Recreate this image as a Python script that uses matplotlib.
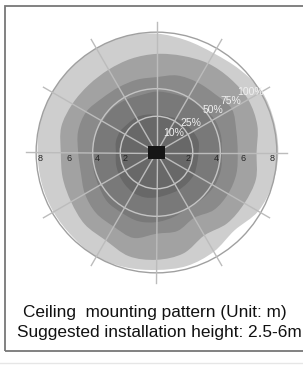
import numpy as np
import matplotlib
matplotlib.use("Agg")
import matplotlib.pyplot as plt
from matplotlib.path import Path
from matplotlib.patches import PathPatch, Rectangle, Circle

# coverage contours, radius (m) every 15 deg starting at +x, counter-clockwise
angles = np.arange(0, 360, 15)
r100 = [8.4, 8.4, 8.4, 8.1, 7.9, 8.0, 8.2, 8.3, 8.3, 8.3, 8.3, 8.3,
        8.2, 8.2, 8.2, 8.2, 8.3, 8.2, 8.1, 8.1, 7.9, 7.6, 8.1, 8.3]
r75 = [6.9, 7.2, 7.3, 7.2, 7.1, 6.9, 6.8, 6.7, 6.6, 6.6, 6.7, 6.8,
       6.6, 6.7, 6.8, 7.0, 7.0, 7.4, 7.4, 7.2, 6.6, 6.9, 7.0, 7.1]
r50 = [5.6, 5.7, 6.0, 5.7, 5.6, 5.5, 5.2, 5.2, 5.2, 5.3, 5.6, 5.6,
       5.4, 5.4, 5.7, 5.9, 5.9, 6.1, 5.6, 5.6, 5.2, 5.6, 5.7, 5.7]
r25 = [4.5, 4.6, 4.6, 4.4, 4.3, 4.2, 4.2, 4.1, 4.2, 4.3, 4.3, 4.4,
       4.4, 4.5, 4.6, 4.8, 4.8, 4.9, 4.8, 4.6, 4.4, 4.5, 4.6, 4.6]
r10 = [2.9, 3.0, 2.9, 2.8, 2.7, 2.6, 2.6, 2.7, 2.8, 2.8, 2.9, 2.9,
       2.8, 2.9, 3.0, 3.1, 3.2, 3.2, 3.1, 3.0, 3.0, 3.0, 3.0, 2.9]
zone_labels = ["100%", "75%", "50%", "25%", "10%"]
zone_colors = ["#cecece", "#a2a2a2", "#8a8a8a", "#797979", "#686868"]

tick_vals = [2, 4, 6, 8]
tick_pos = [2.2, 4.1, 6.0, 8.0]
grid_r = [2.5, 4.4]
outer_r = 8.3


def closed_smooth(radii, ang):
    # catmull-rom through the read points, drawn as cubic bezier
    t = np.deg2rad(ang)
    pts = np.column_stack([np.array(radii) * np.cos(t), np.array(radii) * np.sin(t)])
    n = len(pts)
    verts = [pts[0]]
    codes = [Path.MOVETO]
    for i in range(n):
        p0, p1, p2, p3 = pts[i - 1], pts[i], pts[(i + 1) % n], pts[(i + 2) % n]
        verts += [p1 + (p2 - p0) / 6, p2 - (p3 - p1) / 6, p2]
        codes += [Path.CURVE4] * 3
    return Path(verts, codes)


fig = plt.figure(figsize=(3.03, 3.67), dpi=100)
ax = fig.add_axes([0, 0, 1, 1])
sc = 14.5  # px per metre
cx, cy = 156.5, 152.5
ax.set_xlim(-cx / sc, (303 - cx) / sc)
ax.set_ylim(-(367 - cy) / sc, cy / sc)
ax.axis("off")

for radii, col in zip([r100, r75, r50, r25, r10], zone_colors):
    ax.add_patch(PathPatch(closed_smooth(radii, angles), fc=col, ec="none", zorder=1))

ax.add_patch(Circle((0, 0), outer_r, fc="none", ec="#a0a0a0", lw=1.0, zorder=2))
for r in grid_r:
    ax.add_patch(Circle((0, 0), r, fc="none", ec="#c4c4c4", lw=1.0, zorder=2))
for a in range(0, 360, 30):
    t = np.deg2rad(a)
    L = 9.0
    ax.plot([0, L * np.cos(t)], [0, L * np.sin(t)], color="#bcbcbc", lw=1.0, zorder=2)

ax.add_patch(Rectangle((-0.6, -0.42), 1.2, 0.84, fc="#151515", ec="none", zorder=3))

for v, p in zip(tick_vals, tick_pos):
    for s in (-1, 1):
        ax.text(s * p, -0.38, str(v), ha="center", va="center", fontsize=6.5,
                color="#262626", family="Liberation Sans", zorder=4)

lab_xy = [(6.45, 4.2), (5.1, 3.55), (3.9, 2.9), (2.4, 2.0), (1.2, 1.35)]
for txt, (x, y) in zip(zone_labels, lab_xy):
    ax.text(x, y, txt, ha="center", va="center", fontsize=7.5, color="#f0f0f0",
            family="Liberation Sans", zorder=4)

fig.patches.append(Rectangle((5 / 303, 1 - 351 / 367), 400 / 303, 345 / 367,
                             transform=fig.transFigure, fc="none", ec="#777777", lw=1.3))
fig.lines.append(plt.Line2D([0, 1], [1 - 363 / 367] * 2, transform=fig.transFigure,
                            color="#e6e6e6", lw=1.0))
fig.text(155 / 303, 1 - 312 / 367, "Ceiling  mounting pattern (Unit: m)", ha="center",
         va="center", fontsize=12.4, family="Liberation Sans", color="#111111")
fig.text(159 / 303, 1 - 333 / 367, "Suggested installation height: 2.5-6m", ha="center",
         va="center", fontsize=12.4, family="Liberation Sans", color="#111111")

fig.savefig("out.png", dpi=100)
